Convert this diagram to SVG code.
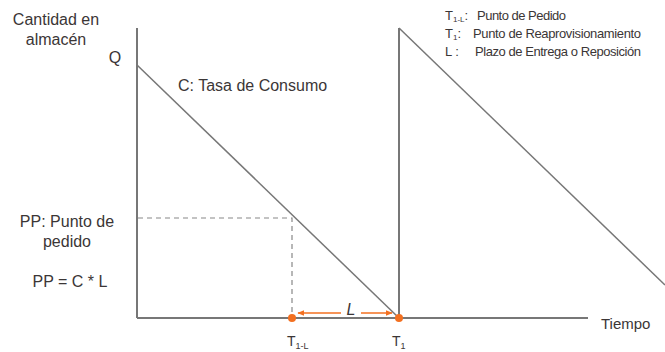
<svg xmlns="http://www.w3.org/2000/svg" width="665" height="352" viewBox="0 0 665 352">
<defs>
<style>
.t{font-family:"Liberation Sans",Arial,sans-serif;fill:#3b3636}
.big{font-size:16px}
.leg{font-size:13px}
.ax{stroke:#777;stroke-width:2;fill:none}
.ln{stroke:#777;stroke-width:1.5;fill:none}
.dash{stroke:#888;stroke-width:1.2;stroke-dasharray:5,4;fill:none}
.or{stroke:#f37021;stroke-width:1.5;fill:none}
</style>
<marker id="ah" viewBox="0 0 10 10" refX="9" refY="5" markerWidth="7" markerHeight="7" orient="auto-start-reverse" markerUnits="userSpaceOnUse">
<path d="M0,1 L10,5 L0,9 Z" fill="#f37021"/>
</marker>
</defs>
<rect width="665" height="352" fill="#fff"/>
<g id="connectors">
<line class="ax" x1="137" y1="28" x2="137" y2="318"/>
<line class="ax" x1="137" y1="318" x2="588" y2="318"/>
<line class="ln" x1="137" y1="65" x2="399" y2="318"/>
<line class="ax" x1="399" y1="28" x2="399" y2="318"/>
<line class="ln" x1="399" y1="28" x2="665" y2="285"/>
<polyline class="dash" points="138,218 292,218 292,318"/>
<line class="or" x1="341" y1="313" x2="298" y2="313" marker-end="url(#ah)"/>
<line class="or" x1="361" y1="313" x2="392" y2="313" marker-end="url(#ah)"/>
<circle cx="292" cy="318" r="4" fill="#f37021"/>
<circle cx="399" cy="318" r="4" fill="#f37021"/>
</g>
<g id="labels">
<text class="t big" x="56" y="25" text-anchor="middle">Cantidad en</text>
<text class="t big" x="56" y="45" text-anchor="middle">almacén</text>
<text class="t big" x="115" y="63" text-anchor="middle">Q</text>
<text class="t big" x="178" y="91">C: Tasa de Consumo</text>
<text class="t big" x="67" y="227" text-anchor="middle">PP: Punto de</text>
<text class="t big" x="67" y="247" text-anchor="middle">pedido</text>
<text class="t big" x="70" y="287" text-anchor="middle">PP = C * L</text>
<text class="t" x="601" y="329" font-size="15">Tiempo</text>
<text class="t" x="351" y="315" font-size="16" font-style="italic" text-anchor="middle" fill="#222">L</text>
<text class="t" x="287" y="346" font-size="14">T<tspan font-size="9" dy="3">1-L</tspan></text>
<text class="t" x="392" y="346" font-size="14">T<tspan font-size="9" dy="3">1</tspan></text>
</g>
<g id="legend">
<text class="t leg" x="445" y="20">T<tspan font-size="8" dy="2">1-L</tspan><tspan dy="-2">:</tspan></text>
<text class="t leg" x="477" y="20" textLength="89">Punto de Pedido</text>
<text class="t leg" x="445" y="38">T<tspan font-size="8" dy="2">1</tspan><tspan dy="-2">:</tspan></text>
<text class="t leg" x="473" y="38" textLength="168">Punto de Reaprovisionamiento</text>
<text class="t leg" x="445" y="56">L :</text>
<text class="t leg" x="475" y="56" textLength="166">Plazo de Entrega o Reposición</text>
</g>
</svg>
